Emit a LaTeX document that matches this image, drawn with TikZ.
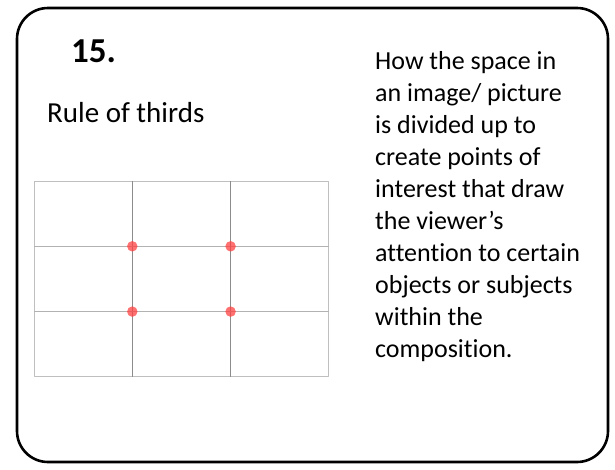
\documentclass[tikz,border=0pt]{standalone}
\usepackage{fontspec}
\setmainfont{Carlito}[RawFeature={-liga;-clig;-calt;-dlig}]
\usetikzlibrary{positioning, calc}

\begin{document}
\begin{tikzpicture}[x=1pt, y=-1pt, line join=round,
      card/.style={draw, line width=2.6pt, rounded corners=31pt},
      num/.style={font=\fontsize{35}{42}\selectfont\bfseries, inner sep=0pt, anchor=base west},
      ttl/.style={font=\fontsize{29}{35}\selectfont, inner sep=0pt, anchor=base west},
      desc/.style={font=\fontsize{26}{31.9}\selectfont, inner sep=0pt, anchor=base west, align=left},
      edge/.style={draw=gray!50, line width=0.9pt},
      vline/.style={draw=gray!90, line width=0.9pt},
      hline/.style={draw=gray!60, line width=0.9pt},
      hot/.style={circle, fill=red!75, opacity=0.75, minimum size=10.5pt, inner sep=0pt}]

    \useasboundingbox (0, 0) rectangle (615, 469);
    \draw[card] (17, 8) rectangle (608, 462);

    \node[num] (num) at (71, 62)  {15.};
    \node[ttl] (title) at (47, 122) {Rule of thirds};
    % base anchor sits on the last line
    \node[desc] (text) at (375, 357) {How the space in\\an image/ picture\\is divided up to\\create points of\\interest that draw\\the viewer’s\\attention to certain\\objects or subjects\\within the\\composition.};

    % the frame and its thirds
    \node[edge, minimum width=294pt, minimum height=195pt, inner sep=0pt, anchor=north west] (grid) at (34, 181) {};
    \foreach \f in {1, 2} {
      \draw[vline] ($(grid.north west)!\f/3!(grid.north east)$) coordinate (t\f) -- ($(grid.south west)!\f/3!(grid.south east)$);
      \draw[hline] ($(grid.north west)!\f/3!(grid.south west)$) coordinate (l\f) -- ($(grid.north east)!\f/3!(grid.south east)$);
    }

    % points of interest
    \foreach \i in {1, 2}
      \foreach \j in {1, 2}
        \node[hot] (dot\i\j) at (t\i |- l\j) {};

\end{tikzpicture}
\end{document}
